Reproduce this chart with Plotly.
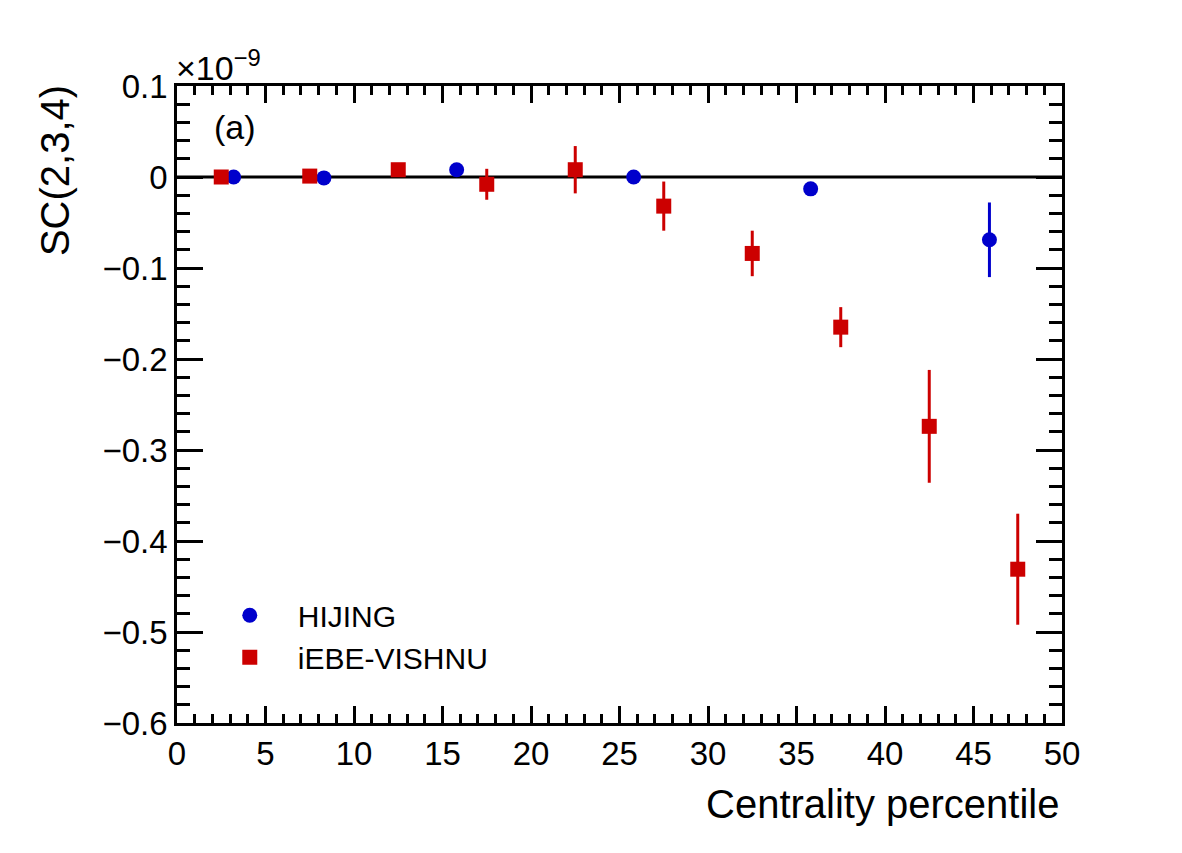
import plotly.graph_objects as go

# HIJING
hij_x = [3.2, 8.3, 15.8, 25.8, 35.8, 45.9]
hij_y = [0.0, -0.001, 0.008, 0.0, -0.013, -0.069]
hij_err = [0.0, 0.0, 0.0, 0.0, 0.0, 0.041]

# iEBE-VISHNU
ieb_x = [2.5, 7.5, 12.5, 17.5, 22.5, 27.5, 32.5, 37.5, 42.5, 47.5]
ieb_y = [0.0, 0.001, 0.008, -0.008, 0.008, -0.032, -0.084, -0.165, -0.274, -0.431]
ieb_err = [0.002, 0.002, 0.003, 0.017, 0.026, 0.027, 0.025, 0.022, 0.062, 0.061]

# y tick labels
y_tickvals = [0.1, 0.0, -0.1, -0.2, -0.3, -0.4, -0.5, -0.6]
y_ticktext = ["0.1", "0", "−0.1", "−0.2", "−0.3", "−0.4", "−0.5", "−0.6"]

BLUE = "rgb(0,0,204)"
RED = "rgb(204,0,0)"
FONT = "Liberation Sans, Arial, sans-serif"

fig = go.Figure()
fig.add_shape(type="line", x0=0, x1=50, y0=0, y1=0, xref="x", yref="y",
              line=dict(color="black", width=3), layer="below")

fig.add_trace(go.Scatter(
    x=hij_x, y=hij_y, mode="markers", name="HIJING",
    marker=dict(symbol="circle", size=15, color=BLUE),
    error_y=dict(type="data", array=hij_err, visible=True, width=0, thickness=3, color=BLUE),
))
fig.add_trace(go.Scatter(
    x=ieb_x, y=ieb_y, mode="markers", name="iEBE-VISHNU",
    marker=dict(symbol="square", size=15, color=RED),
    error_y=dict(type="data", array=ieb_err, visible=True, width=0, thickness=3, color=RED),
))

axis_common = dict(
    showgrid=False, zeroline=False, showline=True, linecolor="black", linewidth=2.5,
    mirror="ticks", ticks="inside", tickcolor="black", tickwidth=2.5,
    tickfont=dict(family=FONT, size=33, color="black"),
)

fig.update_xaxes(
    range=[0, 50], dtick=5, tick0=0, ticklen=17,
    minor=dict(dtick=1, ticks="inside", ticklen=9, tickcolor="black", tickwidth=2.5),
    **axis_common,
)
fig.update_yaxes(
    range=[-0.6, 0.1], tickvals=y_tickvals, ticktext=y_ticktext, ticklen=26,
    minor=dict(dtick=0.02, tick0=0, ticks="inside", ticklen=13, tickcolor="black", tickwidth=2.5),
    **axis_common,
)

fig.update_layout(
    width=1182, height=853,
    margin=dict(l=177, r=120, t=86, b=130),
    plot_bgcolor="white", paper_bgcolor="white",
    font=dict(family=FONT, color="black"),
    showlegend=True,
    legend=dict(x=0.028, y=0.21, xanchor="left", yanchor="top",
                font=dict(family=FONT, size=30, color="black"),
                bgcolor="rgba(0,0,0,0)", tracegroupgap=0, itemwidth=86),
)
fig.add_annotation(text="Centrality percentile", xref="paper", yref="paper",
                   x=1.0, y=-0.09, xanchor="right", yanchor="top", showarrow=False,
                   font=dict(family=FONT, size=40, color="black"))
fig.add_annotation(text="SC(2,3,4)", xref="paper", yref="paper",
                   x=-0.137, y=1.005, xanchor="center", yanchor="top", textangle=-90, showarrow=False,
                   font=dict(family=FONT, size=40, color="black"))
fig.add_annotation(text="×10<sup>−9</sup>", xref="paper", yref="paper",
                   x=-0.003, y=0.995, xanchor="left", yanchor="bottom", showarrow=False,
                   font=dict(family=FONT, size=34, color="black"))
fig.add_annotation(text="(a)", xref="paper", yref="paper",
                   x=0.04, y=0.935, xanchor="left", yanchor="middle", showarrow=False,
                   font=dict(family=FONT, size=34, color="black"))

fig.write_html("out.html")
